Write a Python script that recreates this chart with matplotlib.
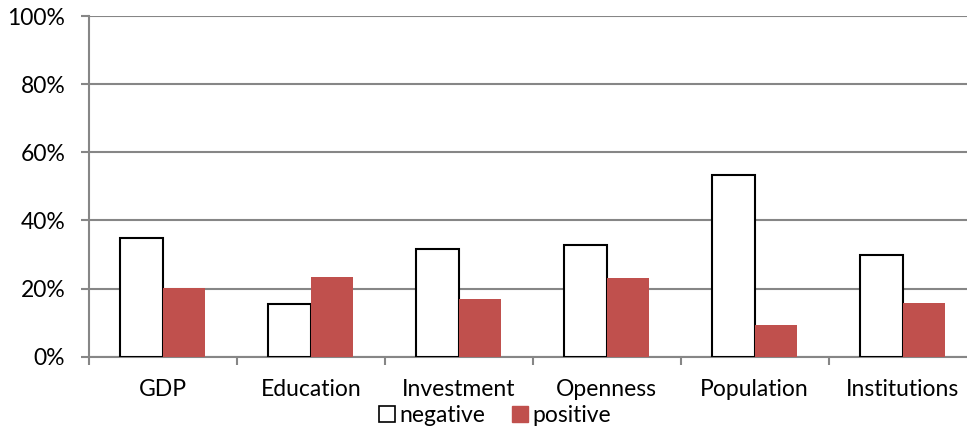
import numpy as np
import matplotlib
matplotlib.use("Agg")
import matplotlib.pyplot as plt
from matplotlib.ticker import FixedLocator, PercentFormatter
from matplotlib.lines import Line2D

plt.rcParams['font.family'] = ['Lato', 'DejaVu Sans']

categories = ["GDP", "Education", "Investment", "Openness", "Population", "Institutions"]
negative = [35.0, 15.5, 31.6, 32.8, 53.4, 29.8]
positive = [20.1, 23.5, 16.9, 23.1, 9.2, 15.9]

grid_col = '#868686'
red = '#C0504D'
fs = 16.5

fig = plt.figure(figsize=(9.67, 4.33), dpi=100)
# plot area runs a little past the right edge, as in the original
ax = fig.add_axes([0.092, 0.176, 0.918, 0.787])

x = np.arange(len(categories))
w = 0.287
ax.bar(x - w / 2, negative, w, color='white', edgecolor='black', linewidth=1.5, label='negative', zorder=3)
ax.bar(x + w / 2, positive, w, color=red, edgecolor='none', label='positive', zorder=3)

ax.set_xlim(-0.5, len(categories) - 0.5)
ax.set_ylim(0, 100)
ax.set_yticks(np.arange(0, 101, 20))
ax.yaxis.set_major_formatter(PercentFormatter(decimals=0))
ax.yaxis.grid(True, color=grid_col, linewidth=1.5, zorder=0)

ax.set_xticks(x)
ax.set_xticklabels(categories)
ax.xaxis.set_minor_locator(FixedLocator(np.arange(-0.5, len(categories), 1.0)))
ax.tick_params(axis='x', which='major', length=0, pad=16, labelsize=fs)
ax.tick_params(axis='x', which='minor', length=6, width=1.5, color=grid_col, direction='out')
ax.tick_params(axis='y', length=6, width=1.5, color=grid_col, direction='out', pad=11, labelsize=fs)

for s in ['top', 'right']:
    ax.spines[s].set_visible(False)
for s in ['left', 'bottom']:
    ax.spines[s].set_color(grid_col)
    ax.spines[s].set_linewidth(1.5)

handles = [
    Line2D([], [], marker='s', linestyle='none', markersize=11, markerfacecolor='white',
           markeredgecolor='black', markeredgewidth=1.2),
    Line2D([], [], marker='s', linestyle='none', markersize=11, markerfacecolor=red,
           markeredgecolor=red),
]
fig.legend(handles, ['negative', 'positive'], loc='center', bbox_to_anchor=(0.51, 0.04),
           ncol=2, frameon=False, fontsize=fs, handletextpad=0.05, columnspacing=1.0,
           handlelength=1.0)

fig.savefig('out.png', dpi=100)
